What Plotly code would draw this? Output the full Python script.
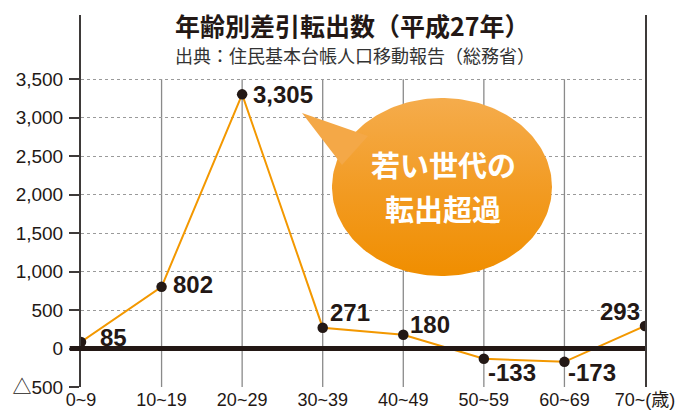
import plotly.graph_objects as go
import numpy as np

categories = ["0~9", "10~19", "20~29", "30~39", "40~49", "50~59", "60~69", "70~"]
values = [85, 802, 3305, 271, 180, -133, -173, 293]
y_ticks = [-500, 0, 500, 1000, 1500, 2000, 2500, 3000, 3500]
y_ticktext = ["△500", "0", "500", "1,000", "1,500", "2,000", "2,500", "3,000", "3,500"]
x_ticktext = ["0~9", "10~19", "20~29", "30~39", "40~49", "50~59", "60~69", "70~(歳)"]
label_text = [f"{v:,}" for v in values]

title = "年齢別差引転出数（平成27年）"
subtitle = "出典：住民基本台帳人口移動報告（総務省）"
bubble_lines = ["若い世代の", "転出超過"]

NUM_FONT = "Liberation Sans, Arial, Noto Sans CJK JP, sans-serif"
JP_FONT = "Noto Sans CJK JP, sans-serif"
ORANGE = "#F39800"
DARK = "#231815"

xs = list(range(len(categories)))

fig = go.Figure()

# speech bubble on overlay pixel axes (pixel coordinates of the page)
cx, cy, rx, ry = 442, 187, 110, 89
t = np.linspace(0, 2 * np.pi, 200)
ex = list(cx + rx * np.cos(t))
ey = list(cy + ry * np.sin(t))
fig.add_trace(go.Scatter(x=ex, y=ey, fill="toself", mode="lines", line=dict(width=0),
                         fillgradient=dict(type="vertical",
                                           colorscale=[[0, "#F08E00"], [0.45, "#F29A20"], [1, "#F5AC4C"]]),
                         xaxis="x2", yaxis="y2", hoverinfo="skip", showlegend=False))
fig.add_trace(go.Scatter(x=[302, 368, 342, 302], y=[113, 136, 165, 113], fill="toself",
                         mode="lines", line=dict(width=0), fillcolor="#F4A847",
                         xaxis="x2", yaxis="y2", hoverinfo="skip", showlegend=False))

fig.add_trace(go.Scatter(x=xs, y=values, mode="lines+markers",
                         line=dict(color=ORANGE, width=2),
                         marker=dict(color=DARK, size=10.5),
                         showlegend=False, hoverinfo="skip"))

shapes = []
for i in xs[1:-1]:
    shapes.append(dict(type="line", xref="x", yref="y", x0=i, x1=i, y0=y_ticks[0], y1=y_ticks[-1],
                       line=dict(color="#8a8a8a", width=1.3), layer="below"))
shapes.append(dict(type="line", xref="paper", yref="y", x0=-0.02, x1=1, y0=0, y1=0,
                   line=dict(color=DARK, width=5)))
fig.update_layout(shapes=shapes)

annotations = []
offsets = [(17, 5, "left"), (9, 2, "left"), (9, 0, "left"), (5, 15, "left"),
           (5, 10, "left"), (2, -14, "left"), (2, -11, "left"), (-3, 15, "right")]
for i, (v, txt) in enumerate(zip(values, label_text)):
    dx, dy, anc = offsets[i]
    annotations.append(dict(x=i, y=v, xref="x", yref="y", text=txt, showarrow=False,
                            xanchor=anc, yanchor="middle", xshift=dx, yshift=dy,
                            font=dict(family=NUM_FONT, size=24, color=DARK, weight="bold")))
annotations.append(dict(x=352, y=25, xref="x2", yref="y2", text=title, showarrow=False,
                        font=dict(family=JP_FONT, size=25, color=DARK, weight="bold"),
                        yanchor="middle", xanchor="center"))
annotations.append(dict(x=355, y=55, xref="x2", yref="y2", text=subtitle, showarrow=False,
                        font=dict(family=JP_FONT, size=18, color="#333"),
                        yanchor="middle", xanchor="center"))
annotations.append(dict(x=44, y=57, xref="x2", yref="y2", text="（人）", showarrow=False,
                        font=dict(family=JP_FONT, size=15, color="#333"),
                        yanchor="middle", xanchor="center"))
for line, yy in zip(bubble_lines, [164, 208]):
    annotations.append(dict(x=443, y=yy, xref="x2", yref="y2", text=line, showarrow=False,
                            font=dict(family=JP_FONT, size=29, color="white", weight="bold"),
                            yanchor="middle", xanchor="center"))
fig.update_layout(annotations=annotations)

fig.update_layout(
    width=678, height=410,
    margin=dict(l=81, r=33, t=15, b=23),
    paper_bgcolor="white", plot_bgcolor="white",
    xaxis=dict(range=[0, 7], tickvals=xs, ticktext=x_ticktext, showgrid=False,
               zeroline=False, showline=False, ticks="", automargin=False,
               ticklabeloverflow="allow", ticklabelstandoff=0,
               tickfont=dict(family=NUM_FONT, size=18, color=DARK)),
    yaxis=dict(range=[-500, 4337], tickvals=y_ticks, ticktext=y_ticktext, automargin=False,
               showgrid=True, gridcolor="#9a9a9a", griddash="dot", gridwidth=1,
               zeroline=False, showline=True, linecolor="#3e3a39", linewidth=2, mirror=True,
               ticks="outside", ticklen=10, tickwidth=2, tickcolor="#3e3a39",
               ticklabelstandoff=2,
               tickfont=dict(family=NUM_FONT, size=19, color=DARK)),
    xaxis2=dict(range=[81, 645], overlaying="x", visible=False, fixedrange=True),
    yaxis2=dict(range=[387, 15], overlaying="y", visible=False, fixedrange=True),
)

fig.write_html("out.html", config={"displayModeBar": False},
               post_script="document.body.style.margin='0';document.body.style.overflow='hidden';")
